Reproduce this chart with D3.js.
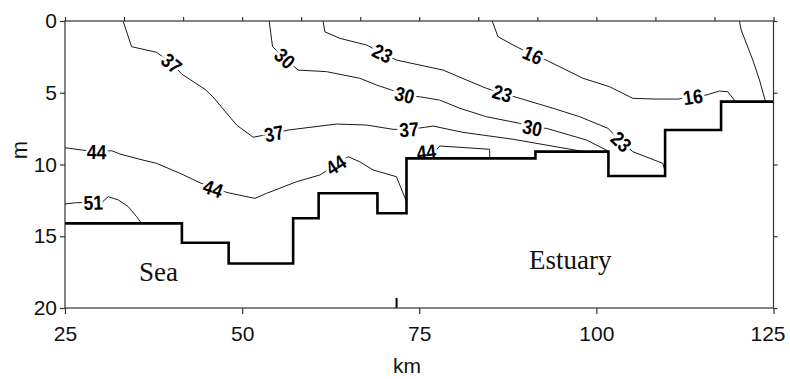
<!DOCTYPE html>
<html>
<head>
<meta charset="utf-8">
<script src="https://cdn.jsdelivr.net/npm/d3@7"></script>
<style>
  body { margin: 0; background: #fff; }
  svg { display: block; }
</style>
</head>
<body>
<svg id="chart" width="790" height="379"></svg>
<script>
// Salinity section along the channel: distance (km) vs depth (m)

// Axis ticks
const xTicks = [25, 50, 75, 100, 125];
const yTicks = [0, 5, 10, 15, 20];
const xMinorTicks = d3.range(13).map(i => 25 + i * 100 / 12);

// Bottom profile: left edge of each step (km) and its depth (m)
const bottomKm    = [25, 41.5, 48.1, 57.2, 60.8, 69.1, 73.2, 91.4, 101.7, 109.7, 117.6, 125];
const bottomDepth = [14.1, 15.45, 16.9, 13.75, 12.0, 13.4, 9.57, 9.1, 10.8, 7.6, 5.62, 5.62];

// Sampling station mark on the bottom axis
const stationKm = [71.8];

// Isohalines as [km, m] points
const contour16 = [[85.3,0],[86.11,1.09],[88.23,1.67],[91.05,2.37],[92.7,2.67],[98.1,3.99],[101.87,4.58],[105.15,5.39],[108.45,5.44],[111.5,5.44],[113.62,5.28],[115.5,5.16],[117.38,4.88],[118.55,4.93],[119.64,5.62]];
const contour9  = [[120.2,0],[120.44,0.63],[122.08,2.72],[123.02,4.11],[123.87,5.62]];
const contour23 = [[61.43,0],[61.67,0.75],[63.79,1.21],[67.55,1.67],[69.81,2.25],[71.78,2.72],[78.36,3.42],[81.66,4.11],[84.47,4.69],[86.73,5.04],[88.93,5.35],[93.87,6.08],[97.64,6.67],[101.63,7.48],[103.52,8.41],[105.15,9.11],[109.38,9.92],[109.6,10.3]];
const contour30 = [[53.82,0],[54.29,1.79],[56.03,2.6],[57.9,3.42],[61.9,3.53],[66.6,3.99],[68.96,4.46],[71.08,4.81],[72.95,5.16],[75.07,5.28],[77.89,5.51],[80.71,6.08],[84.47,6.67],[89.17,7.13],[90.96,7.44],[92.94,7.48],[98.58,8.29],[101.63,9.05]];
const contour37 = [[33.2,0],[34.4,1.79],[37.9,2.18],[40.05,2.95],[41.46,3.69],[44.75,4.76],[45.87,5.28],[49.22,7.25],[51.56,8.1],[52.5,8.01],[54.52,7.83],[56.49,7.6],[63.32,7.18],[67.55,7.25],[71.3,7.55],[73.56,7.55],[75.77,7.41],[76.94,7.32],[81.17,7.76],[88.23,8.24],[98.2,9.1]];
const contour44 = [[25,8.83],[27.36,8.99],[29.47,9.11],[31.59,9.04],[32.76,9.27],[35.58,9.64],[37.93,9.92],[41.22,10.61],[44.04,11.27],[45.92,11.66],[48.03,11.97],[51.8,12.36],[53.45,12.01],[57.68,11.2],[60.97,10.73],[63.22,10.03],[64.96,9.46],[66.61,9.81],[68.48,10.38],[71.78,10.85],[73.1,12.47],[73.2,12.7]];
const contour44Shelf = [[74.6,9.15],[76.0,9.11],[77.4,9.0],[77.89,8.71],[84.94,8.94],[84.94,9.57]];
const contour51 = [[25,12.75],[26.65,12.66],[28.99,12.64],[30.3,12.6],[31.11,12.24],[32.52,12.47],[33.93,12.94],[35.11,13.64],[35.82,14.1]];

// Label anchor points on each isohaline
const labels16 = [[91.05,2.37],[113.62,5.28]];
const labels23 = [[69.81,2.25],[86.73,5.04],[103.52,8.41]];
const labels30 = [[56.03,2.6],[72.95,5.16],[90.96,7.44]];
const labels37 = [[40.05,2.95],[54.52,7.83],[73.56,7.55]];
const labels44 = [[29.47,9.11],[45.92,11.66],[63.22,10.03]];
const labels44Shelf = [[76.0,9.11]];
const labels51 = [[28.99,12.64]];

const isohalines = [
  { level: 16, pts: contour16, labels: labels16 },
  { level: 9,  pts: contour9,  labels: [] },
  { level: 23, pts: contour23, labels: labels23 },
  { level: 30, pts: contour30, labels: labels30 },
  { level: 37, pts: contour37, labels: labels37 },
  { level: 44, pts: contour44, labels: labels44 },
  { level: 44, pts: contour44Shelf, labels: labels44Shelf },
  { level: 51, pts: contour51, labels: labels51 }
];

const svg = d3.select("#chart");
const x = d3.scaleLinear().domain([25, 125]).range([65, 773.5]);
const y = d3.scaleLinear().domain([0, 20]).range([21, 308]);

const sans = "'Liberation Sans', Arial, Helvetica, sans-serif";
const serif = "'Liberation Serif', 'Times New Roman', Times, serif";

const line = d3.line().x(d => x(d[0])).y(d => y(d[1]));

// Isohaline lines
svg.append("g")
  .selectAll("path")
  .data(isohalines)
  .join("path")
  .attr("d", d => line(d.pts))
  .attr("fill", "none")
  .attr("stroke", "#1a1a1a")
  .attr("stroke-width", 1)
  .attr("stroke-linejoin", "round");

// Inline labels, rotated along the local line direction
function labelAngle(pts, p) {
  let best = 0, bestD = Infinity;
  pts.forEach((q, i) => {
    const dd = (q[0] - p[0]) ** 2 + (q[1] - p[1]) ** 2;
    if (dd < bestD) { bestD = dd; best = i; }
  });
  const a = pts[Math.max(0, best - 1)], b = pts[Math.min(pts.length - 1, best + 1)];
  let ang = Math.atan2(y(b[1]) - y(a[1]), x(b[0]) - x(a[0])) * 180 / Math.PI;
  if (ang > 90) ang -= 180;
  if (ang < -90) ang += 180;
  return ang;
}

const labelData = isohalines.flatMap(c =>
  c.labels.map(p => ({ level: c.level, p, ang: labelAngle(c.pts, p) })));

svg.append("g")
  .selectAll("g")
  .data(labelData)
  .join("g")
  .attr("transform", d => `translate(${x(d.p[0])},${y(d.p[1])}) rotate(${d.ang}) scale(1,1.15)`)
  .append("text")
  .attr("text-anchor", "middle")
  .attr("dy", "0.36em")
  .attr("font-family", sans)
  .attr("font-size", 17.5)
  .attr("font-weight", "bold")
  .attr("fill", "#000")
  .attr("stroke", "#fff")
  .attr("stroke-width", 5)
  .attr("paint-order", "stroke")
  .text(d => d.level);

// Bottom profile
const bottomPts = bottomKm.map((k, i) => [k, bottomDepth[i]]);
svg.append("path")
  .attr("d", d3.line().x(d => x(d[0])).y(d => y(d[1])).curve(d3.curveStepAfter)(bottomPts))
  .attr("fill", "none")
  .attr("stroke", "#000")
  .attr("stroke-width", 2.6);

// Station mark
svg.append("g")
  .selectAll("line")
  .data(stationKm)
  .join("line")
  .attr("x1", d => x(d)).attr("x2", d => x(d))
  .attr("y1", y(20)).attr("y2", y(19.3))
  .attr("stroke", "#000")
  .attr("stroke-width", 2);

// Axes
const axisColor = "#333";
function styleAxis(g) {
  g.select(".domain").remove();
  g.selectAll(".tick line").attr("stroke", axisColor).attr("stroke-width", 1.2);
  g.selectAll(".tick text")
    .attr("font-family", sans)
    .attr("font-size", 21)
    .attr("fill", "#111");
}

svg.append("g")
  .attr("transform", `translate(0,${y(20)})`)
  .call(d3.axisBottom(x).tickValues(xTicks).tickSize(6).tickPadding(12.5).tickFormat(d3.format("d")))
  .call(styleAxis)
  .call(g => g.selectAll(".tick text").filter(d => d === 125).attr("dx", -6));

svg.append("g")
  .attr("transform", `translate(${x(25)},0)`)
  .call(d3.axisLeft(y).tickValues(yTicks).tickSize(5).tickPadding(3).tickFormat(d3.format("d")))
  .call(styleAxis);

svg.append("g")
  .attr("transform", `translate(0,${y(0)})`)
  .call(d3.axisTop(x).tickValues(xMinorTicks).tickSize(4).tickFormat(""))
  .call(styleAxis);

svg.append("g")
  .attr("transform", `translate(${x(125)},0)`)
  .call(d3.axisRight(y).tickValues(yTicks).tickSize(4).tickFormat(""))
  .call(styleAxis);

// Plot frame
svg.append("rect")
  .attr("x", x(25)).attr("y", y(0))
  .attr("width", x(125) - x(25)).attr("height", y(20) - y(0))
  .attr("fill", "none")
  .attr("stroke", axisColor)
  .attr("stroke-width", 1.2);

// Axis titles
svg.append("text")
  .attr("x", 407).attr("y", 373)
  .attr("text-anchor", "middle")
  .attr("font-family", sans).attr("font-size", 21).attr("fill", "#111")
  .text("km");

svg.append("text")
  .attr("transform", "translate(26.5,150) rotate(-90)")
  .attr("text-anchor", "middle")
  .attr("font-family", sans).attr("font-size", 22).attr("fill", "#111")
  .text("m");

// Region names
svg.append("text")
  .attr("x", x(38.2)).attr("y", 281)
  .attr("text-anchor", "middle")
  .attr("font-family", serif).attr("font-size", 27).attr("fill", "#111")
  .text("Sea");

svg.append("text")
  .attr("x", x(96.3)).attr("y", 269)
  .attr("text-anchor", "middle")
  .attr("font-family", serif).attr("font-size", 27).attr("fill", "#111")
  .text("Estuary");
</script>
</body>
</html>
